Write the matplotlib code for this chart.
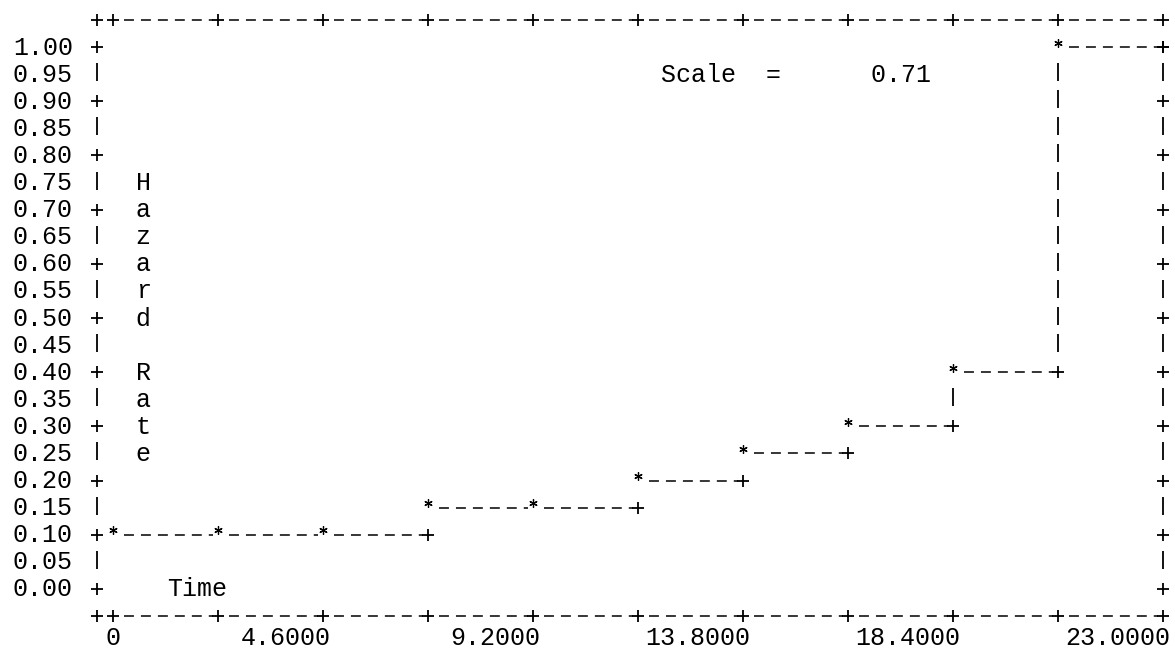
import numpy as np
import matplotlib.pyplot as plt
from matplotlib import transforms as mtransforms

# Valeurs (taux de hasard par intervalle)
debut_intervalle = [0.0, 2.3, 4.6, 6.9, 9.2, 11.5, 13.8, 16.1, 18.4, 20.7]
fin_axe = 23.0
taux_hasard = [0.10, 0.10, 0.10, 0.15, 0.15, 0.20, 0.25, 0.30, 0.40, 1.00]

graduations_x = [0.0, 2.3, 4.6, 6.9, 9.2, 11.5, 13.8, 16.1, 18.4, 20.7, 23.0]
valeurs_etiquettes_x = [0.0, 4.6, 9.2, 13.8, 18.4, 23.0]
etiquettes_x = ["0", "4.6000", "9.2000", "13.8000", "18.4000", "23.0000"]
etiquettes_y = ["0.00", "0.05", "0.10", "0.15", "0.20", "0.25", "0.30",
                "0.35", "0.40", "0.45", "0.50", "0.55", "0.60", "0.65",
                "0.70", "0.75", "0.80", "0.85", "0.90", "0.95", "1.00"]
titre_y = "Hazard Rate"
titre_x = "Time"
texte_echelle = "Scale  =      0.71"

# mise en page (style sortie ASCII)
PAS = 0.05          # hauteur d'une ligne de texte en unites y
X_BORD = -0.35      # colonne du bord gauche
Y_HAUT = 1.05
Y_BAS = -0.05

fig = plt.figure(figsize=(11.75, 6.53), dpi=100)
ax = fig.add_axes([97 / 1175, 37 / 653, 1066 / 1175, 596 / 653])
ax.set_xlim(X_BORD, fin_axe)
ax.set_ylim(Y_BAS, Y_HAUT)
ax.axis('off')


def decale(dx_px, dy_px):
    return ax.transData + mtransforms.ScaledTranslation(dx_px / 100, dy_px / 100, fig.dpi_scale_trans)


police = dict(family='Liberation Mono', size=18, color='black')


def ecrire(x, y, s, ha='left', dx=0, dy=-7.5):
    ax.text(x, y, s, ha=ha, va='baseline', transform=decale(dx, dy), clip_on=False, **police)


def plus(xs, ys):
    ax.plot(xs, ys, ls='none', marker='+', ms=9, mew=1.3, color='k', clip_on=False)


def barre(xs, ys):
    ax.plot(xs, ys, ls='none', marker='|', ms=13, mew=1.3, color='k', clip_on=False,
            transform=decale(0, 2))


def etoile(xs, ys):
    ax.plot(xs, ys, ls='none', marker=(6, 2, 0), ms=6, mew=0.9, color='k', clip_on=False,
            transform=decale(0, 4.5))


def tirets(x0, x1, y):
    ax.plot([x0, x1], [y, y], color='k', lw=1.1, ls=(0, (6.5, 4.6)), clip_on=False,
            dash_capstyle='butt')


lignes_y = [float(t) for t in etiquettes_y]

# bords gauche et droit : + et | en alternance
for k, y in enumerate(lignes_y):
    for xb in (X_BORD, fin_axe):
        if k % 2 == 0:
            plus([xb], [y])
        else:
            barre([xb], [y])

# bords haut et bas
for yb in (Y_HAUT, Y_BAS):
    plus([X_BORD], [yb])
    plus(graduations_x, [yb] * len(graduations_x))
    for a, b in zip(graduations_x[:-1], graduations_x[1:]):
        tirets(a + 0.25, b - 0.12, yb)

# courbe en escalier
fins = debut_intervalle[1:] + [fin_axe]
for i, (x0, x1, h) in enumerate(zip(debut_intervalle, fins, taux_hasard)):
    etoile([x0], [h])
    tirets(x0 + 0.25, x1 - 0.12, h)
    dernier = i == len(taux_hasard) - 1
    if dernier or taux_hasard[i + 1] != h:
        plus([x1], [h])
    if not dernier and taux_hasard[i + 1] - h > PAS + 1e-9:
        ys = [y for y in lignes_y if h + 1e-9 < y < taux_hasard[i + 1] - 1e-9]
        barre([x1] * len(ys), ys)

# etiquettes
for y, t in zip(lignes_y, etiquettes_y):
    ecrire(-0.876, y, t, ha='right')
for x, t in zip(valeurs_etiquettes_x, etiquettes_x):
    ecrire(x, Y_BAS - PAS, t, ha='right', dx=7.7, dy=-2)

for k, ch in enumerate(titre_y):
    ecrire(0.66, 0.75 - k * PAS, ch, ha='center')
ecrire(1.18, 0.0, titre_x)
ecrire(12.0, 0.95, texte_echelle)

fig.savefig('out.png', dpi=100)
